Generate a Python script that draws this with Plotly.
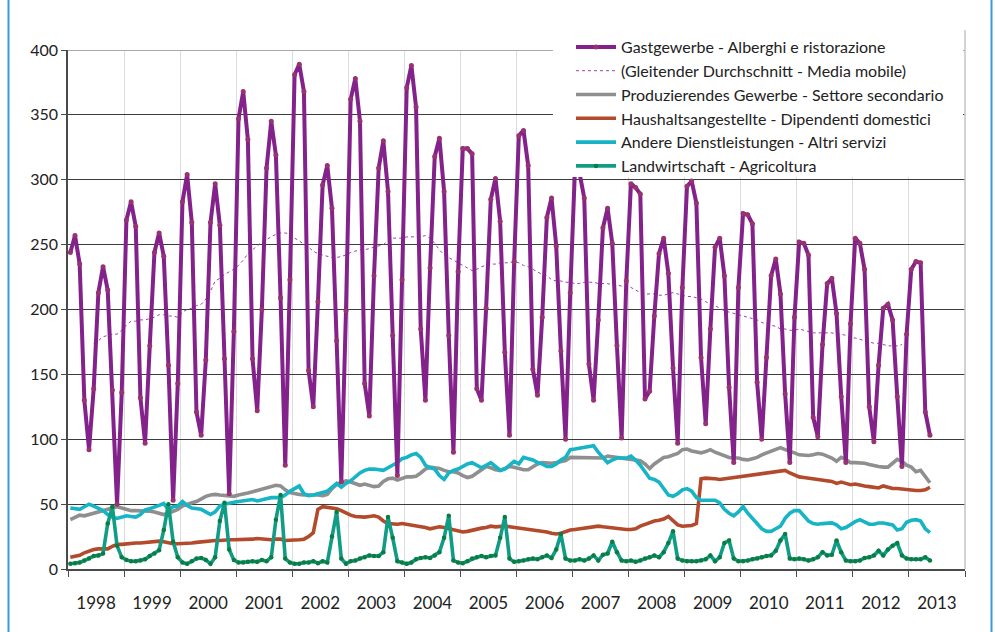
import plotly.graph_objects as go

# ---------------- data (monthly, Jan 1998 .. May 2013) ----------------
years = ["1998", "1999", "2000", "2001", "2002", "2003", "2004", "2005",
         "2006", "2007", "2008", "2009", "2010", "2011", "2012", "2013"]

gastgewerbe = [
    244, 257, 235, 130, 92, 139, 213, 233, 215, 138, 50, 136,      # 1998
    269, 283, 264, 132, 97, 172, 244, 259, 241, 157, 53, 143,      # 1999
    283, 304, 267, 121, 103, 161, 267, 297, 265, 162, 58, 183,     # 2000
    347, 368, 331, 162, 122, 200, 309, 345, 319, 209, 80, 223,     # 2001
    381, 389, 368, 153, 125, 206, 296, 311, 278, 176, 67, 199,     # 2002
    362, 378, 345, 143, 118, 226, 309, 330, 291, 180, 72, 223,     # 2003
    371, 388, 356, 185, 130, 232, 318, 332, 291, 180, 90, 229,     # 2004
    324, 324, 320, 139, 130, 201, 285, 301, 268, 167, 103, 237,    # 2005
    334, 338, 311, 154, 134, 194, 271, 286, 249, 168, 100, 213,    # 2006
    307, 305, 286, 158, 130, 192, 263, 278, 251, 172, 101, 222,    # 2007
    297, 294, 289, 131, 137, 195, 243, 255, 228, 155, 97, 217,     # 2008
    295, 299, 282, 163, 112, 185, 248, 255, 226, 140, 82, 217,     # 2009
    274, 273, 266, 144, 100, 163, 226, 239, 212, 135, 82, 194,     # 2010
    252, 251, 242, 117, 102, 173, 220, 224, 197, 133, 82, 189,     # 2011
    255, 251, 231, 125, 98, 157, 201, 204, 192, 133, 79, 181,      # 2012
    231, 237, 236, 121, 103,                                       # 2013
]

# moving average, first value in June 1998 (month index 5)
ma_start_month = 5
media_mobile = [
    174, 176, 179, 180, 181, 181, 184,
    188, 191, 191, 192, 192, 193, 194, 196, 196, 195, 195, 194,
    198, 200, 201, 203, 204, 208, 214, 222, 224, 227, 229, 231,
    234, 238, 243, 246, 249, 252, 254, 256, 258, 259, 259, 258,
    255, 253, 250, 248, 245, 243, 242, 241, 240, 240, 241, 242,
    244, 245, 246, 246, 247, 248, 249, 250, 253, 255, 255, 255,
    256, 256, 256, 256, 257, 255, 251, 246, 242, 240, 238, 236,
    234, 232, 230, 231, 233, 234, 235, 235, 236, 236, 236, 237,
    236, 234, 233, 231, 229, 227, 226, 223, 222, 222, 221, 221,
    220, 220, 221, 221, 221, 220, 220, 220, 219, 219, 218, 218,
    217, 215, 213, 212, 212, 212, 211, 211, 212, 213, 212, 211,
    210, 210, 209, 208, 206, 204, 203, 201, 199, 198, 197, 196,
    195, 194, 193, 192, 190, 189, 188, 187, 185, 185, 184, 184,
    185, 184, 183, 182, 182, 182, 182, 182, 181, 181, 180, 178,
    178, 177, 176, 175, 174, 174, 173, 172, 172, 172, 173,
]

produzierendes = [
    38, 40, 41.5, 41, 42, 43, 44.5, 45.5, 46.5, 47.5, 48, 47,
    46, 45, 45, 45, 45, 44.5, 44, 43, 42, 43, 44.5, 46,
    48.5, 50, 51, 52, 54, 56, 57, 57.5, 57, 56.5, 56, 56,
    57, 57.5, 58.5, 59.5, 60.5, 62, 63, 64, 64.5, 64, 61, 59,
    58, 57.5, 57, 57, 57.5, 57, 56.5, 57.5, 62, 65, 67, 68,
    67, 66, 64.5, 65.5, 64.5, 63.5, 64, 67.5, 69.5, 70, 68.5, 69.5,
    71, 71, 71.5, 74, 77, 78.5, 78, 77.5, 76, 75, 75, 74,
    72, 70.5, 71.5, 74, 76.5, 79, 78, 76.5, 76, 77.5, 79, 78.5,
    77.5, 76.5, 76.5, 78.5, 81, 82, 81.5, 81.5, 82, 82.5, 83.5, 86,
    86, 85.5, 85.5, 86, 86, 85.5, 85.5, 87, 86.5, 86, 85.5, 85,
    84.5, 84, 83.5, 81, 77.5, 81, 83.5, 86, 86.5, 87.5, 89, 92,
    92.5, 91, 90, 89.5, 90.5, 92, 90, 88.5, 87.5, 86, 85.5, 85.5,
    84.5, 84, 85, 86, 88, 89.5, 90.5, 92, 93.5, 92, 91, 89.5,
    88, 87.5, 87.5, 88, 89, 88.5, 87, 85.5, 83, 86, 84.5, 82,
    82, 82, 81.5, 80.5, 79.5, 79, 78.5, 78.5, 81.5, 84.5, 83, 80,
    78.5, 75, 76, 71, 66.5,
]

haushalt = [
    9, 9.5, 10.5, 12.5, 14, 15, 15.5, 15.5, 15.5, 17.5, 19, 19,
    19.5, 19.5, 20, 20, 20.5, 21, 21.5, 21.5, 21, 20, 19.5, 19.5,
    19.5, 19.5, 20, 20.5, 21, 21, 21.5, 22, 22, 22.5, 22.5, 22.5,
    22.5, 22.5, 23, 23, 23.5, 23, 22.5, 22.5, 23, 23, 22, 22,
    22, 22.5, 23, 25, 28, 46, 48, 47.5, 47, 46.5, 45, 43,
    41.5, 40.5, 40, 40, 40.5, 41, 40, 37, 35, 34.5, 34.5, 35,
    34.5, 34, 33.5, 33, 32, 31, 32, 32.5, 32, 31, 30, 29,
    28.5, 29, 30, 31, 31.5, 32, 33, 32.5, 33, 33, 32.5, 32,
    32, 31.5, 31, 30.5, 30, 29.5, 28.5, 27.5, 27, 27.5, 29, 30,
    30.5, 31, 31.5, 32, 32.5, 33, 32.5, 32, 31.5, 31, 30.5, 30.5,
    30.5, 31, 33, 34.5, 36, 37, 37.5, 38.5, 40.5, 37, 34, 33,
    33, 33.5, 35, 69.5, 70, 70, 69.5, 69, 69.5, 70, 71, 71,
    71.5, 72, 72.5, 73, 73.5, 74, 74.5, 75, 75.5, 76, 74, 72.5,
    71, 70.5, 70, 69.5, 69, 68.5, 68, 67.5, 66, 67, 66, 65,
    65.5, 64.5, 64, 63.5, 63, 62.5, 64, 63, 62, 62, 61.5, 61.5,
    61, 60.5, 60.5, 61, 63,
]

andere = [
    47, 46.5, 46, 48, 50, 48.5, 46.5, 45, 42, 40, 39, 40,
    41, 40.5, 40, 42, 45.5, 46.5, 47.5, 49, 50.5, 45.5, 48, 48.5,
    52, 49, 47, 46.5, 46, 44, 42, 44, 48.5, 50, 51, 51.5,
    52, 52.5, 53, 53.5, 52.5, 53.5, 54.5, 55, 55, 55, 57, 60,
    62, 64, 58, 56.5, 57, 58, 59, 60, 63, 66, 63, 66,
    68, 71, 74, 76, 77, 77, 76.5, 76, 78, 80, 82, 85,
    86, 88, 89, 86, 80, 78, 77, 72, 69, 74, 76, 77,
    79, 81, 82, 80, 78, 80, 82, 79, 76, 77, 80, 83,
    81, 86, 85, 84, 82, 81, 79, 79, 81, 84, 86, 92,
    92.5, 93, 93.5, 94.5, 95, 90, 86, 82, 84, 85.5, 85.5, 85.5,
    87, 84, 80, 75, 70, 69, 67, 62, 57, 56, 58, 61,
    62, 60, 55, 53, 53, 53.5, 53, 51, 46, 43, 41, 44,
    48, 43, 39, 34, 31, 29, 29, 31, 33, 39, 43, 45,
    45, 41, 37, 35, 34.5, 35, 35, 35.5, 34, 31, 32, 34.5,
    36.5, 38, 36, 34.5, 34.5, 35.5, 35.5, 35, 34, 30, 31, 36,
    37.5, 38, 37, 31, 28,
]

landwirtschaft = [
    4, 4.5, 5, 6.5, 8, 10, 10.5, 12, 35, 48, 18, 9,
    7, 6, 6, 6.5, 7.5, 10, 12, 14.5, 30, 50, 21, 9,
    5, 4, 6, 8, 8.5, 7, 4, 9, 37, 51, 15, 7,
    5, 5, 5.5, 6, 5.5, 7, 6, 9, 38, 57, 8, 5,
    4, 4, 5, 5, 6, 4.5, 6, 5, 25, 44, 8, 4,
    6, 6.5, 8, 9, 10.5, 10, 10, 13, 40, 24, 6, 5,
    4, 5, 7.5, 8.5, 9, 8.5, 10.5, 13, 24, 41, 6.5, 5,
    4.5, 6, 8, 9, 10, 9, 10, 10.5, 24, 40, 8, 5.5,
    6, 6.5, 7.5, 8, 7.5, 9, 10.5, 8.5, 15, 27, 8, 6.5,
    6.5, 7.5, 6.5, 8, 10.5, 6.5, 11, 12, 21, 13, 6.5, 6,
    6.5, 5.5, 6.5, 8, 9, 10.5, 9, 13, 20, 29, 8, 6.5,
    6, 6, 6, 6.5, 7.5, 10.5, 6, 9, 20, 22, 8, 6,
    6, 6.5, 7.5, 8, 9, 10, 10.5, 14, 22, 27, 8, 7.5,
    8, 7.5, 6.5, 7.5, 9, 13, 10.5, 11, 22, 13, 6.5, 6,
    6, 6.5, 8.5, 9, 10.5, 14, 10.5, 15, 18, 20, 10.5, 8,
    7.5, 7.5, 7.5, 9, 6.5,
]

names = {
    "gast": "Gastgewerbe - Alberghi e ristorazione",
    "ma": "(Gleitender Durchschnitt - Media mobile)",
    "prod": "Produzierendes Gewerbe - Settore secondario",
    "haus": "Haushaltsangestellte - Dipendenti domestici",
    "andere": "Andere Dienstleistungen - Altri servizi",
    "land": "Landwirtschaft - Agricoltura",
}

# ---------------- figure ----------------
months = list(range(len(gastgewerbe)))
ma_x = list(range(ma_start_month, ma_start_month + len(media_mobile)))
n_slots = 12 * len(years)

fig = go.Figure()

fig.add_trace(go.Scatter(x=months, y=produzierendes, name=names["prod"], mode="lines",
                         line=dict(color="#8f8f8f", width=3.6), legendrank=3, legendgroup="c"))
fig.add_trace(go.Scatter(x=months, y=haushalt, name=names["haus"], mode="lines",
                         line=dict(color="#b24a2b", width=3.6), legendrank=4, legendgroup="d"))
fig.add_trace(go.Scatter(x=months, y=andere, name=names["andere"], mode="lines",
                         line=dict(color="#17b4c6", width=3.6), legendrank=5, legendgroup="e"))
fig.add_trace(go.Scatter(x=months, y=landwirtschaft, name=names["land"], mode="lines+markers",
                         line=dict(color="#119c86", width=3.6),
                         marker=dict(color="#0b7d43", size=4.5),
                         legendrank=6, legendgroup="f"))
fig.add_trace(go.Scatter(x=ma_x, y=media_mobile, name=names["ma"], mode="lines",
                         line=dict(color="#a23fab", width=1, dash="3px,3px"),
                         legendrank=2, legendgroup="b"))
fig.add_trace(go.Scatter(x=months, y=gastgewerbe, name=names["gast"], mode="lines+markers",
                         line=dict(color="#84228b", width=4),
                         marker=dict(color="#98336f", size=5),
                         legendrank=1, legendgroup="a"))

# body margin is removed (post_script), so screen px == figure px
W, H = 995, 632
PL, PR, PT, PB = 68, 965, 50, 569          # plot area in screen px
L, T = PL, PT
pw, ph = PR - PL, PB - PT
R = W - L - pw
B = H - T - ph


def px_x(p):
    return (p - L) / pw


def px_y(p):
    return (T + ph - p) / ph


shapes = [
    # top border (light)
    dict(type="line", xref="paper", yref="y", x0=0, x1=1, y0=400, y1=400,
         line=dict(color="#a9a9a9", width=2), layer="above"),
    # white area behind legend
    dict(type="rect", xref="paper", yref="paper", x0=px_x(553), x1=px_x(963),
         y0=px_y(177), y1=px_y(30), fillcolor="white", line=dict(width=0), layer="above"),
    # right border
    dict(type="line", xref="paper", yref="paper", x0=1, x1=1, y0=0, y1=px_y(30),
         line=dict(color="#c4c4c4", width=1.5), layer="above"),
    # outer blue frame (left and right edges)
    dict(type="line", xref="paper", yref="paper", x0=px_x(8.5), x1=px_x(8.5),
         y0=px_y(632), y1=px_y(0), line=dict(color="#3d9ad6", width=2), layer="above"),
    dict(type="line", xref="paper", yref="paper", x0=px_x(991.5), x1=px_x(991.5),
         y0=px_y(632), y1=px_y(0), line=dict(color="#3d9ad6", width=2), layer="above"),
]

fig.update_layout(
    width=W, height=H,
    margin=dict(l=L, r=R, t=T, b=B, pad=0),
    paper_bgcolor="white", plot_bgcolor="white",
    showlegend=True,
    legend=dict(x=px_x(571), y=px_y(30), xanchor="left", yanchor="top",
                bgcolor="rgba(255,255,255,0)", borderwidth=0,
                font=dict(family="Lato, 'Open Sans', sans-serif", size=16, color="#222"),
                tracegroupgap=3.2, itemwidth=40, traceorder="normal"),
    shapes=shapes,
    font=dict(family="Lato, 'Open Sans', sans-serif", color="#222"),
)

fig.update_xaxes(
    range=[-0.5, n_slots - 0.5],
    tickmode="array",
    tickvals=[12 * k + 5.5 for k in range(len(years))],
    ticktext=years,
    ticks="outside", ticklen=18, tickcolor="rgba(0,0,0,0)",
    showgrid=False, zeroline=False,
    showline=True, linecolor="#4a4a4a", linewidth=2,
    tickfont=dict(family="Lato, sans-serif", size=17, color="#222"),
    minor=dict(tick0=-0.5, dtick=12, ticks="outside", ticklen=6, tickcolor="#4a4a4a",
               tickwidth=1, showgrid=True, gridcolor="#dcdcdc", gridwidth=1),
)
fig.update_yaxes(
    range=[0, 400], tickmode="array", tickvals=list(range(0, 401, 50)),
    ticks="outside", ticklen=5, tickcolor="#4a4a4a",
    showgrid=True, gridcolor="#3c3c3c", gridwidth=1, zeroline=False,
    showline=True, linecolor="#4a4a4a", linewidth=1.5,
    tickfont=dict(family="Lato, sans-serif", size=16, color="#222"),
)

fig.write_html(
    "out.html",
    config={"displayModeBar": False},
    post_script="document.body.style.margin='0';document.body.style.overflow='hidden';",
)
